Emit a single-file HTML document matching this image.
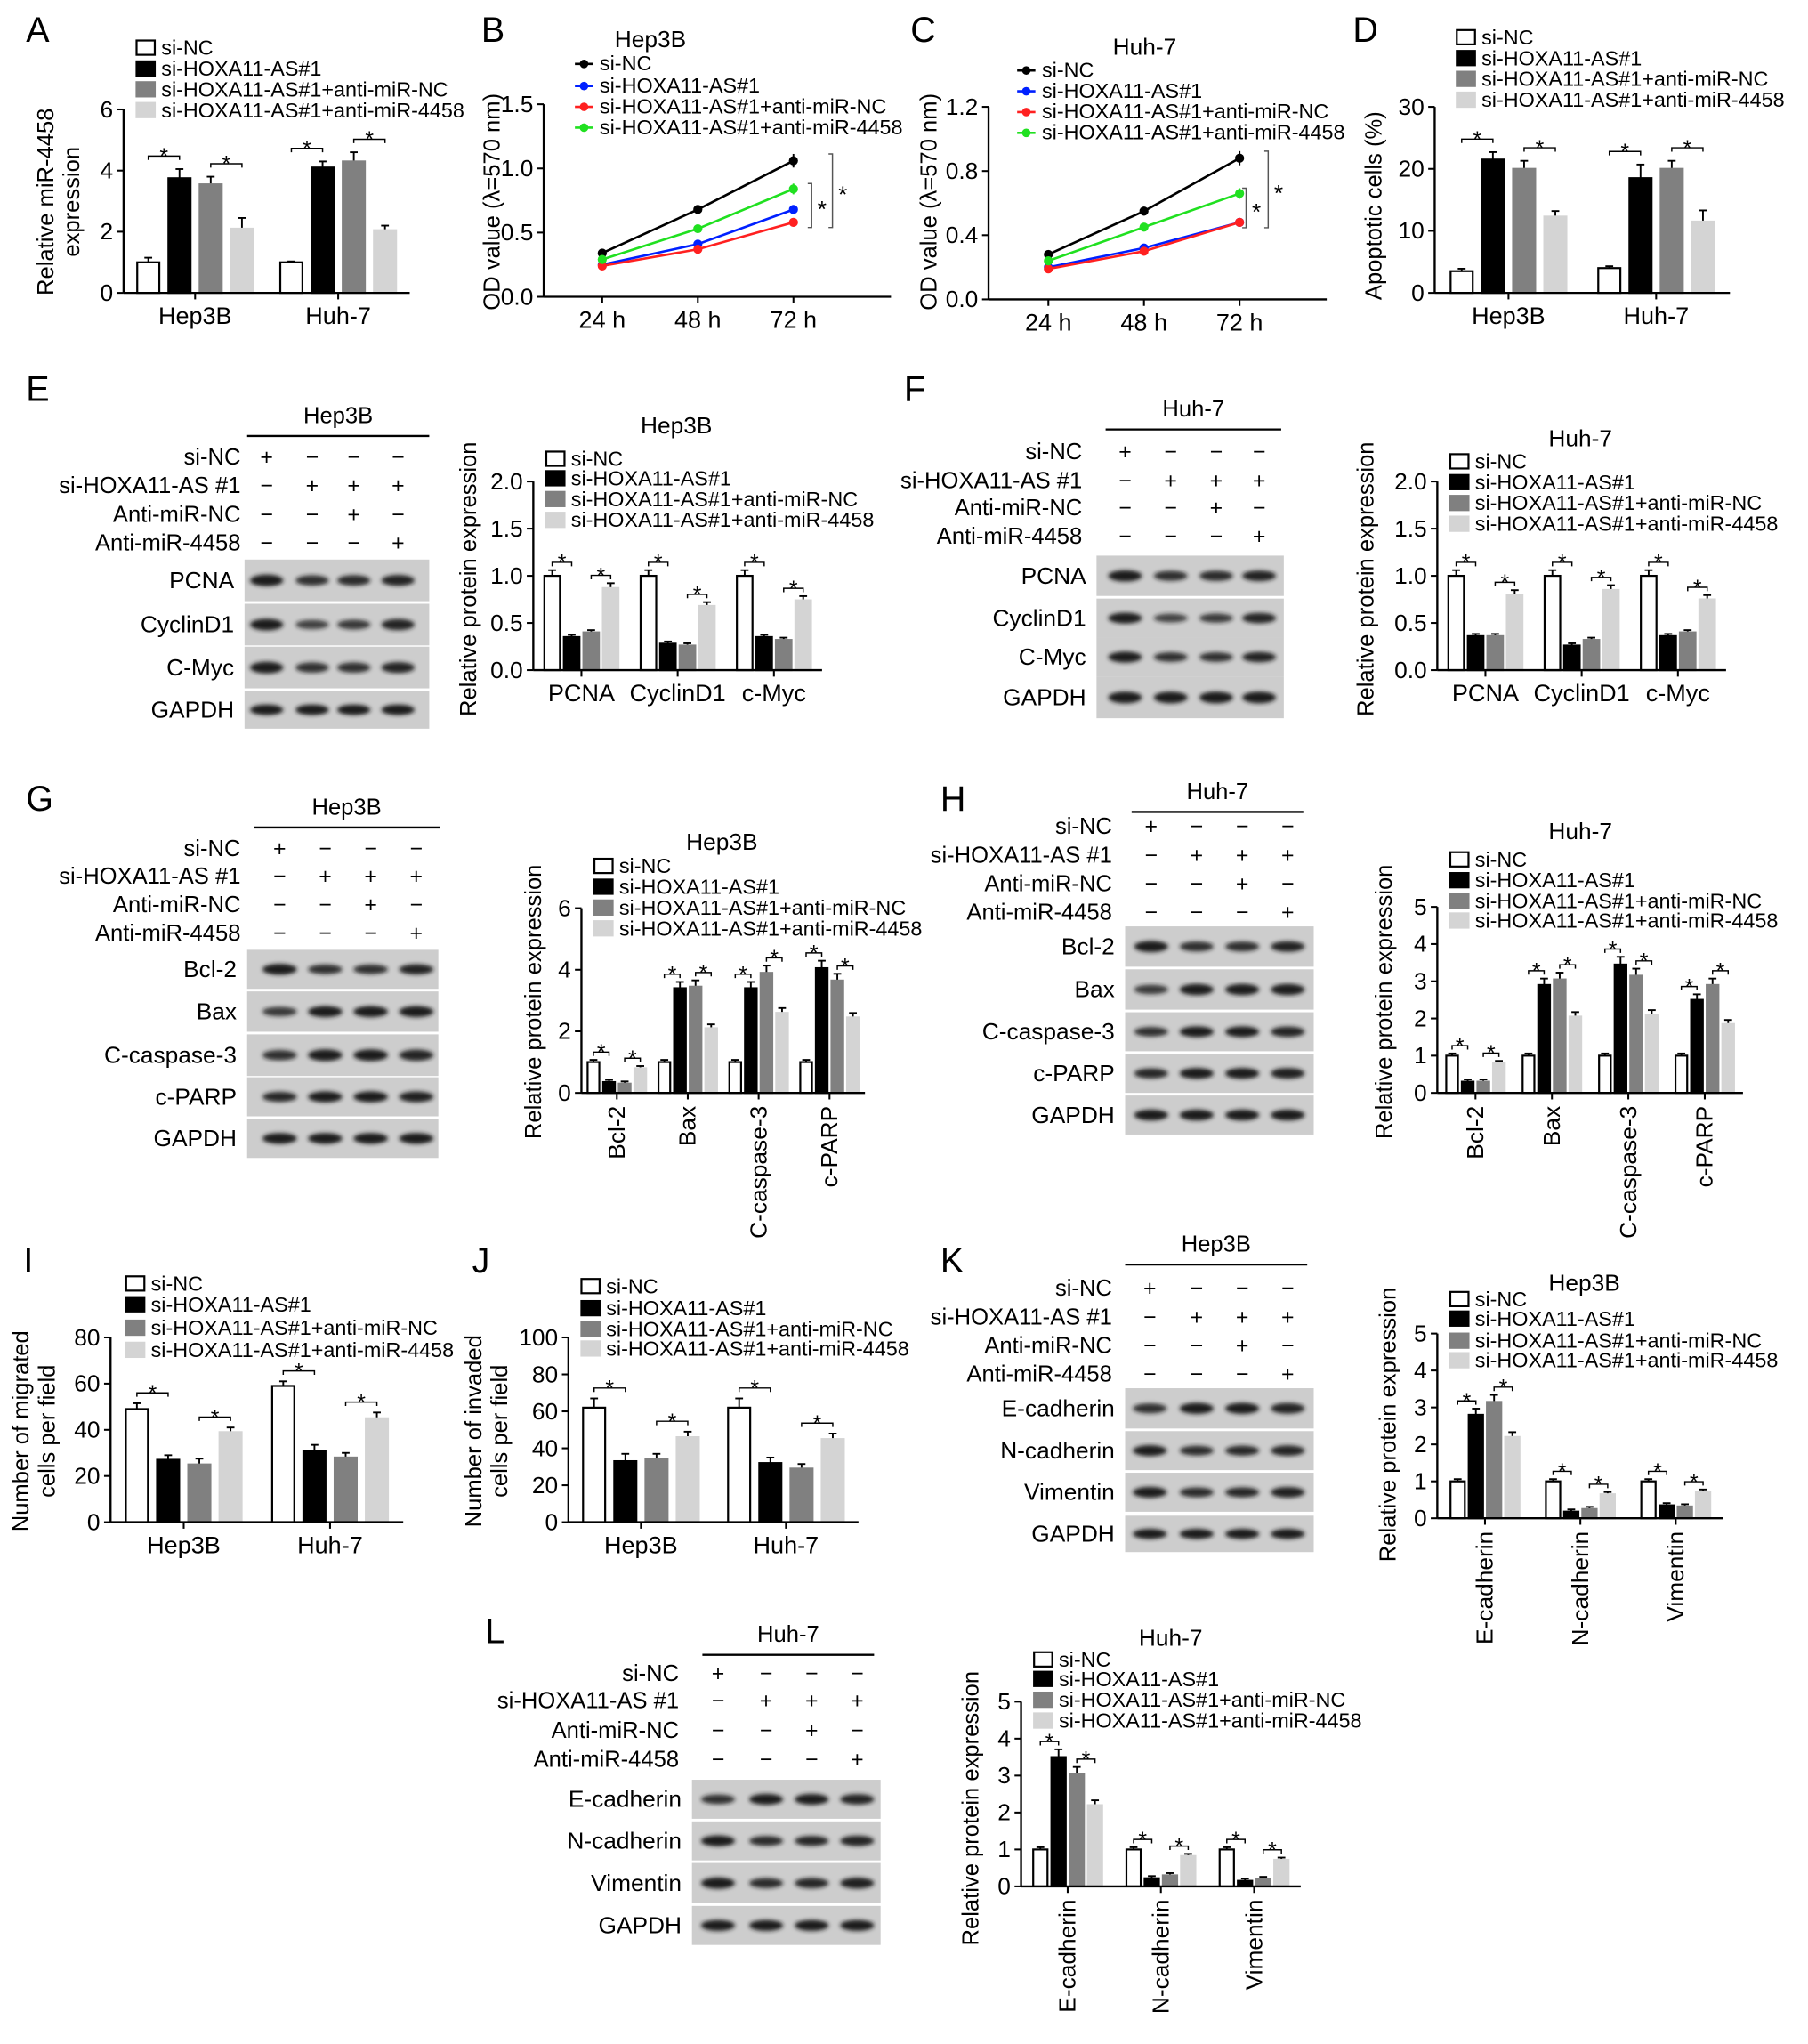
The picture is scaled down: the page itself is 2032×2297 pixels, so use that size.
<!DOCTYPE html>
<html><head><meta charset="utf-8"><style>
html,body{margin:0;padding:0;background:#fff}
svg{display:block}
text{font-family:"Liberation Sans",Arial,sans-serif;fill:#000}
</style></head><body>
<svg id="fig" width="2032" height="2297" viewBox="0 0 1390 1571" xmlns="http://www.w3.org/2000/svg">
<defs><filter id="blur" x="-20%" y="-50%" width="140%" height="200%"><feGaussianBlur stdDeviation="1.6"/></filter></defs>
</svg>
<script>
// ---------- DATA ----------
const legend4=['si-NC','si-HOXA11-AS#1','si-HOXA11-AS#1+anti-miR-NC','si-HOXA11-AS#1+anti-miR-4458'];
const cellCats=['Hep3B','Huh-7'];
const aSiNC=[1.0,1.0], aSiHox=[3.75,4.1], aAntiNC=[3.55,4.3], aAnti4458=[2.1,2.05];
const aErr=[[0.15,0.3,0.25,0.35],[0.03,0.2,0.3,0.15]];
const aTicks=[0,2,4,6];
const timeCats=['24 h','48 h','72 h'];
const bNC=[0.34,0.68,1.06], bHox=[0.25,0.41,0.68], bAntiNC=[0.24,0.37,0.58], bAnti4458=[0.29,0.53,0.84];
const bTicks=['0.0','0.5','1.0','1.5'];
const cNC=[0.28,0.55,0.88], cHox=[0.2,0.32,0.48], cAntiNC=[0.19,0.3,0.48], cAnti4458=[0.24,0.45,0.66];
const cTicks=['0.0','0.4','0.8','1.2'];
const dSiNC=[3.5,4.0], dSiHox=[21.5,18.5], dAntiNC=[20,20], dAnti4458=[12.3,11.5];
const dErr=[[0.4,1.2,1.3,0.9],[0.3,2.2,1.3,1.8]];
const dTicks=[0,10,20,30];
const prolifCats=['PCNA','CyclinD1','c-Myc'];
const eSiNC=[1.0,1.0,1.0], eSiHox=[0.35,0.28,0.35], eAntiNC=[0.4,0.26,0.32], eAnti4458=[0.87,0.68,0.74];
const fSiNC=[1.0,1.0,1.0], fSiHox=[0.36,0.26,0.36], fAntiNC=[0.36,0.32,0.4], fAnti4458=[0.8,0.85,0.75];
const protTicks2=['0.0','0.5','1.0','1.5','2.0'];
const apopCats=['Bcl-2','Bax','C-caspase-3','c-PARP'];
const gSiNC=[1.0,1.0,1.0,1.0], gSiHox=[0.35,3.4,3.4,4.05], gAntiNC=[0.3,3.45,3.9,3.65], gAnti4458=[0.8,2.1,2.6,2.45];
const gTicks=[0,2,4,6];
const hSiNC=[1.0,1.0,1.0,1.0], hSiHox=[0.3,2.9,3.45,2.5], hAntiNC=[0.3,3.05,3.15,2.9], hAnti4458=[0.8,2.05,2.1,1.85];
const ticks5=[0,1,2,3,4,5];
const iSiNC=[49,59], iSiHox=[27,31], iAntiNC=[25,28], iAnti4458=[39,45];
const iErr=[[2.5,2,2.5,2],[2,2.5,2,2.5]];
const iTicks=[0,20,40,60,80];
const jSiNC=[62,62], jSiHox=[33,32], jAntiNC=[34,29], jAnti4458=[46,45];
const jErr=[[5,4,3,3],[5,3,2.5,3]];
const jTicks=[0,20,40,60,80,100];
const emtCats=['E-cadherin','N-cadherin','Vimentin'];
const kSiNC=[1.0,1.0,1.0], kSiHox=[2.8,0.18,0.35], kAntiNC=[3.15,0.25,0.32], kAnti4458=[2.2,0.65,0.72];
const lSiNC=[1.0,1.0,1.0], lSiHox=[3.5,0.22,0.15], lAntiNC=[3.05,0.3,0.2], lAnti4458=[2.2,0.82,0.72];
const signRows=['si-NC','si-HOXA11-AS #1','Anti-miR-NC','Anti-miR-4458'];
const signs=[['+','−','−','−'],['−','+','+','+'],['−','−','+','−'],['−','−','−','+']];
const bandIntensity={PCNA:[1,0.7,0.75,0.85],CyclinD1:[1,0.5,0.6,0.9],'C-Myc':[1,0.7,0.7,0.85],GAPDH:[1,1,1,1],
 'Bcl-2':[1,0.7,0.7,0.85],Bax:[0.6,1,1,1],'C-caspase-3':[0.7,1,1,0.9],'c-PARP':[0.8,1,1,0.95],
 'E-cadherin':[0.7,1,1,0.9],'N-cadherin':[1,0.75,0.8,0.9],Vimentin:[1,0.75,0.8,0.95]};
const colors=['#ffffff','#000000','#808080','#d4d4d4'];
const lineColors=['#000000','#0020ff','#ff2020','#20e020'];

// ---------- HELPERS ----------
const NS='http://www.w3.org/2000/svg';
const svg=document.getElementById('fig');
function mk(tag,attrs,parent){const e=document.createElementNS(NS,tag);for(const k in attrs)e.setAttribute(k,attrs[k]);(parent||svg).appendChild(e);return e;}
function txt(x,y,s,size,anchor,parent,name,rot){
  const e=mk('text',{x:x,y:y,'font-size':size,'text-anchor':anchor||'start'},parent);
  if(rot)e.setAttribute('transform','rotate('+rot+' '+x+' '+y+')');
  e.textContent=s;
  
  
  return e;}
function grp(name){const g=mk('g',{});
  
  
  return g;}

function panelLetter(l,x,y){txt(x,y,l,27,'start',svg,'panel-label-'+l.toLowerCase());}

function yAxis(g,x0,ytop,ybot,ticks,max,size){
  mk('line',{x1:x0,y1:ytop,x2:x0,y2:ybot,stroke:'#000','stroke-width':1.6},g);
  ticks.forEach(t=>{const v=parseFloat(t);const y=ybot-(v/max)*(ybot-ytop);
    mk('line',{x1:x0-5,y1:y,x2:x0,y2:y,stroke:'#000','stroke-width':1.4},g);
    txt(x0-8,y+6,String(t),size||18,'end',g,'y-tick-label');});
}
function yTitle(g,x,yc,lines,size){
  lines.forEach((l,i)=>txt(x+i*20,yc,l,size||17.5,'middle',g,'y-axis-title',-90));
}
function barLegend(g,x,ys,size){
  legend4.forEach((s,i)=>{
    const r=mk('rect',{x:x,y:ys[i]-10,width:14,height:11,fill:colors[i],stroke:i==0?'#000':colors[i],'stroke-width':1.5},g);
    
    
    txt(x+19,ys[i]+1,s,size||16,'start',g,'legend-entry');});
}
function barChart(o){
  const g=grp(o.name);
  const n=o.cats.length, gw=(o.x1-o.x0)/n;
  const yv=v=>o.ybot-(v/o.max)*(o.ybot-o.ytop);
  const errOf=(i,j)=>{const v=o.series[j][i];return o.err?o.err[i][j]:Math.max(0.012*o.max,v*0.06);};
  o.series.forEach((ser,j)=>{
    ser.forEach((v,i)=>{
      const cx=o.x0+(i+0.5)*gw+(j-1.5)*o.step;
      const er=errOf(i,j);
      mk('line',{x1:cx,y1:yv(v),x2:cx,y2:yv(v+er),stroke:'#000','stroke-width':1.3},g);
      mk('line',{x1:cx-3,y1:yv(v+er),x2:cx+3,y2:yv(v+er),stroke:'#000','stroke-width':1.3},g);
      const r=mk('rect',{x:cx-o.bw/2,y:yv(v),width:o.bw,height:o.ybot-yv(v),fill:colors[j],stroke:j==0?'#000':colors[j],'stroke-width':1.5},g);
      
      
    });
  });
  o.cats.forEach((c,i)=>{
    [[0,1],[2,3]].forEach(pr=>{
      let top=0;pr.forEach(j=>{top=Math.max(top,o.series[j][i]+errOf(i,j));});
      const y=yv(top)-o.gap;
      const xa=o.x0+(i+0.5)*gw+(pr[0]-1.5)*o.step, xb=o.x0+(i+0.5)*gw+(pr[1]-1.5)*o.step;
      mk('path',{d:`M${xa} ${y+3}V${y}H${xb}V${y+3}`,fill:'none',stroke:'#000','stroke-width':1},g);
      txt((xa+xb)/2,y+6,'*',o.starSize||17,'middle',g,'significance-star');
    });
  });
  yAxis(g,o.x0,o.ytop,o.ybot,o.ticks,o.max,o.tickSize);
  mk('line',{x1:o.x0,y1:o.ybot,x2:o.x1,y2:o.ybot,stroke:'#000','stroke-width':1.6},g);
  o.cats.forEach((c,i)=>{const cx=o.x0+(i+0.5)*gw;
    mk('line',{x1:cx,y1:o.ybot,x2:cx,y2:o.ybot+5,stroke:'#000','stroke-width':1.4},g);
    if(o.rot)txt(cx+6,o.ybot+10,c,18,'end',g,'x-tick-label',-90);
    else txt(cx,o.ybot+24,c,18.5,'middle',g,'x-tick-label');});
  if(o.title)txt(o.title[0],o.title[1],o.title[2],18,'middle',g,'chart-title');
  barLegend(g,o.legX,o.legY,o.legSize);
  yTitle(g,o.ytX,o.ytY,o.ytLines,o.ytSize);
}
function lineChart(o){
  const g=grp(o.name);
  const n=o.cats.length;
  const xv=i=>o.x0+o.padL+i*(o.x1-o.x0-o.padL-o.padR)/(n-1);
  const yv=v=>o.ybot-(v/o.max)*(o.ybot-o.ytop);
  o.series.forEach((ser,j)=>{
    const pts=ser.map((v,i)=>xv(i)+','+yv(v)).join(' ');
    const pl=mk('polyline',{points:pts,fill:'none',stroke:lineColors[j],'stroke-width':1.8},g);
    
    
    ser.forEach((v,i)=>{
      mk('line',{x1:xv(i),y1:yv(v*1.05),x2:xv(i),y2:yv(v*0.95),stroke:lineColors[j],'stroke-width':1.3},g);
      const c=mk('circle',{cx:xv(i),cy:yv(v),r:3.5,fill:lineColors[j]},g);
      
      
    });
  });
  o.brackets.forEach(b=>{
    const ya=yv(o.series[b[0]][2]*1.05),yb=yv(o.series[b[1]][2]*0.93);
    mk('path',{d:`M${b[2]-3} ${ya}H${b[2]}V${yb}H${b[2]-3}`,fill:'none',stroke:'#555','stroke-width':1},g);
    txt(b[2]+8,(ya+yb)/2+9,'*',18,'middle',g,'significance-star');
  });
  yAxis(g,o.x0,o.ytop,o.ybot,o.ticks,o.max);
  mk('line',{x1:o.x0,y1:o.ybot,x2:o.x1,y2:o.ybot,stroke:'#000','stroke-width':1.6},g);
  o.cats.forEach((c,i)=>{mk('line',{x1:xv(i),y1:o.ybot,x2:xv(i),y2:o.ybot+5,stroke:'#000','stroke-width':1.4},g);
    txt(xv(i),o.ybot+24,c,18.5,'middle',g,'x-tick-label');});
  txt(o.title[0],o.title[1],o.title[2],18,'middle',g,'chart-title');
  legend4.forEach((s,i)=>{const y=o.legY[i];
    mk('line',{x1:o.legX,y1:y-4,x2:o.legX+14,y2:y-4,stroke:lineColors[i],'stroke-width':1.8},g);
    mk('circle',{cx:o.legX+7,cy:y-4,r:3.3,fill:lineColors[i]},g);
    txt(o.legX+19,y+1,s,16,'start',g,'legend-entry');});
  yTitle(g,o.ytX,o.ytY,['OD value (λ=570 nm)']);
}
function blot(o){
  const g=grp(o.name);
  txt((o.lx1+o.lx0)/2,o.hy,o.header,17.5,'middle',g,'blot-header');
  mk('line',{x1:o.lx0,y1:o.hy+10,x2:o.lx1,y2:o.hy+10,stroke:'#000','stroke-width':1.6},g);
  signRows.forEach((r,i)=>{txt(o.rx,o.ry[i]+6,r,17.5,'end',g,'treatment-label');
    o.cols.forEach((cx,k)=>txt(cx,o.ry[i]+6,signs[i][k],17,'middle',g,'treatment-sign'));});
  o.bands.forEach(b=>{
    const h=b[2]-b[1];
    const r=mk('rect',{x:o.bx0,y:b[1],width:o.bx1-o.bx0,height:h,fill:'#cdcdcd'},g);
    
    
    const inten=bandIntensity[b[0]];
    o.cols.forEach((cx,k)=>{
      const bw=(o.bx1-o.bx0)/4*0.72, bh=h*0.28*(0.6+0.4*inten[k]);
      mk('ellipse',{cx:cx,cy:b[1]+h/2,rx:bw/2,ry:bh/2,fill:'#1a1a1a','fill-opacity':0.55+0.45*inten[k],filter:'url(#blur)'},g);
    });
    txt(o.bx0-8,b[1]+h/2+6,b[0],18,'end',g,'protein-label');
  });
}

// ---------- PANELS ----------
panelLetter('A',20,32);
barChart({name:'panel-a-chart',cats:cellCats,series:[aSiNC,aSiHox,aAntiNC,aAnti4458],err:aErr,x0:95,x1:315,ytop:84,ybot:225,max:6,ticks:aTicks,bw:17,step:24,gap:10,
 legX:105,legY:[41,57,73,89],ytX:41,ytY:155,ytLines:['Relative miR-4458','expression']});

panelLetter('B',370,32);
lineChart({name:'panel-b-chart',cats:timeCats,series:[bNC,bHox,bAntiNC,bAnti4458],x0:418,x1:685,padL:45,padR:75,ytop:80,ybot:228,max:1.5,ticks:bTicks,
 title:[500,36,'Hep3B'],legX:442,legY:[53,70,86,102],ytX:384,ytY:155,brackets:[[0,2,640],[3,2,624]]});

panelLetter('C',700,32);
lineChart({name:'panel-c-chart',cats:timeCats,series:[cNC,cHox,cAntiNC,cAnti4458],x0:760,x1:1020,padL:46,padR:67,ytop:82,ybot:230,max:1.2,ticks:cTicks,
 title:[880,42,'Huh-7'],legX:782,legY:[58,74,90,106],ytX:720,ytY:155,brackets:[[0,2,975],[3,2,958]]});

panelLetter('D',1040,32);
barChart({name:'panel-d-chart',cats:cellCats,series:[dSiNC,dSiHox,dAntiNC,dAnti4458],err:dErr,x0:1103,x1:1330,ytop:82,ybot:225,max:30,ticks:dTicks,bw:17,step:24,gap:10,
 legX:1120,legY:[33,49,65,81],ytX:1062,ytY:158,ytLines:['Apoptotic cells (%)']});

panelLetter('E',20,308);
blot({name:'panel-e-blot',header:'Hep3B',hy:325,lx0:190,lx1:330,rx:185,ry:[351,373,395,417],cols:[205,240,272,306],bx0:188,bx1:330,
 bands:[['PCNA',430,462],['CyclinD1',464,496],['C-Myc',497,529],['GAPDH',531,560]]});
barChart({name:'panel-e-chart',cats:prolifCats,series:[eSiNC,eSiHox,eAntiNC,eAnti4458],x0:410,x1:632,ytop:370,ybot:515,max:2.0,ticks:protTicks2,bw:12,step:15,gap:6,
 title:[520,333,'Hep3B'],legX:420,legY:[357,372,388,404],ytX:366,ytY:445,ytLines:['Relative protein expression']});

panelLetter('F',695,308);
blot({name:'panel-f-blot',header:'Huh-7',hy:320,lx0:850,lx1:985,rx:832,ry:[347,369,390,412],cols:[865,900,935,968],bx0:843,bx1:987,
 bands:[['PCNA',427,458],['CyclinD1',460,490],['C-Myc',490,520],['GAPDH',520,552]]});
barChart({name:'panel-f-chart',cats:prolifCats,series:[fSiNC,fSiHox,fAntiNC,fAnti4458],x0:1105,x1:1327,ytop:370,ybot:515,max:2.0,ticks:protTicks2,bw:12,step:15,gap:6,
 title:[1215,343,'Huh-7'],legX:1115,legY:[359,375,391,407],ytX:1056,ytY:445,ytLines:['Relative protein expression']});

panelLetter('G',20,623);
blot({name:'panel-g-blot',header:'Hep3B',hy:626,lx0:195,lx1:338,rx:185,ry:[652,673,695,717],cols:[215,250,285,320],bx0:190,bx1:337,
 bands:[['Bcl-2',730,760],['Bax',762,793],['C-caspase-3',795,827],['c-PARP',828,858],['GAPDH',860,890]]});
barChart({name:'panel-g-chart',cats:apopCats,series:[gSiNC,gSiHox,gAntiNC,gAnti4458],x0:447,x1:665,ytop:698,ybot:840,max:6,ticks:gTicks,bw:9,step:12,gap:6,rot:true,
 title:[555,653,'Hep3B'],legX:457,legY:[670,686,702,718],ytX:416,ytY:770,ytLines:['Relative protein expression']});

panelLetter('H',723,623);
blot({name:'panel-h-blot',header:'Huh-7',hy:614,lx0:870,lx1:1002,rx:855,ry:[635,657,679,701],cols:[885,920,955,990],bx0:865,bx1:1010,
 bands:[['Bcl-2',712,743],['Bax',745,776],['C-caspase-3',778,808],['c-PARP',810,840],['GAPDH',842,872]]});
barChart({name:'panel-h-chart',cats:apopCats,series:[hSiNC,hSiHox,hAntiNC,hAnti4458],x0:1105,x1:1340,ytop:697,ybot:840,max:5,ticks:ticks5,bw:9,step:12,gap:6,rot:true,
 title:[1215,645,'Huh-7'],legX:1115,legY:[665,681,697,712],ytX:1070,ytY:770,ytLines:['Relative protein expression']});

panelLetter('I',18,978);
barChart({name:'panel-i-chart',cats:cellCats,series:[iSiNC,iSiHox,iAntiNC,iAnti4458],err:iErr,
 x0:85,x1:310,ytop:1028,ybot:1170,max:80,ticks:iTicks,bw:17,step:24,gap:8,
 legX:97,legY:[991,1007,1025,1042],ytX:22,ytY:1100,ytLines:['Number of migrated','cells per field']});

panelLetter('J',363,978);
barChart({name:'panel-j-chart',cats:cellCats,series:[jSiNC,jSiHox,jAntiNC,jAnti4458],err:jErr,
 x0:437,x1:660,ytop:1028,ybot:1170,max:100,ticks:jTicks,bw:17,step:24,gap:8,
 legX:447,legY:[993,1010,1026,1041],ytX:370,ytY:1100,ytLines:['Number of invaded','cells per field']});

panelLetter('K',723,978);
blot({name:'panel-k-blot',header:'Hep3B',hy:962,lx0:865,lx1:1005,rx:855,ry:[990,1012,1034,1056],cols:[884,920,955,990],bx0:865,bx1:1010,
 bands:[['E-cadherin',1067,1098],['N-cadherin',1100,1130],['Vimentin',1132,1162],['GAPDH',1165,1193]]});
barChart({name:'panel-k-chart',cats:emtCats,series:[kSiNC,kSiHox,kAntiNC,kAnti4458],x0:1105,x1:1325,ytop:1025,ybot:1167,max:5,ticks:ticks5,bw:11,step:14,gap:6,rot:true,
 title:[1218,992,'Hep3B'],legX:1115,legY:[1003,1018,1035,1050],ytX:1073,ytY:1095,ytLines:['Relative protein expression']});

panelLetter('L',373,1263);
blot({name:'panel-l-blot',header:'Huh-7',hy:1262,lx0:540,lx1:672,rx:522,ry:[1286,1307,1330,1352],cols:[552,589,624,659],bx0:532,bx1:677,
 bands:[['E-cadherin',1368,1398],['N-cadherin',1400,1430],['Vimentin',1432,1463],['GAPDH',1465,1495]]});
barChart({name:'panel-l-chart',cats:emtCats,series:[lSiNC,lSiHox,lAntiNC,lAnti4458],x0:785,x1:1000,ytop:1308,ybot:1450,max:5,ticks:ticks5,bw:11,step:14,gap:6,rot:true,
 title:[900,1265,'Huh-7'],legX:795,legY:[1280,1295,1311,1327],ytX:752,ytY:1390,ytLines:['Relative protein expression']});
</script>
</body></html>
